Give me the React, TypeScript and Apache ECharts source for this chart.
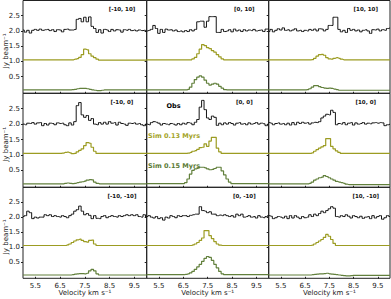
import React, { useEffect, useRef } from "react";
import * as echarts from "echarts";

const velocity = [
  5.0, 5.1, 5.2, 5.3, 5.4, 5.5, 5.6, 5.7, 5.8, 5.9,
  6.0, 6.1, 6.2, 6.3, 6.4, 6.5, 6.6, 6.7, 6.8, 6.9,
  7.0, 7.1, 7.2, 7.3, 7.4, 7.5, 7.6, 7.7, 7.8, 7.9,
  8.0, 8.1, 8.2, 8.3, 8.4, 8.5, 8.6, 8.7, 8.8, 8.9,
  9.0, 9.1, 9.2, 9.3, 9.4, 9.5, 9.6, 9.7, 9.8, 9.9, 10.0,
];

const panelLabels = ["[-10, 10]", "[0, 10]", "[10, 10]", "[-10, 0]", "[0, 0]", "[10, 0]", "[-10, -10]", "[0, -10]", "[10, -10]"];
const xTickLabels = [5.5, 6.5, 7.5, 8.5, 9.5];
const yTickLabels = [0.5, 1.0, 1.5, 2.0, 2.5];
const seriesNames = ["Obs", "Sim 0.13 Myrs", "Sim 0.15 Myrs"];

// [-10, 10]
const obsA = [
  2.03, 1.96, 2.02, 1.93, 2.02, 2.05, 2.02, 2.06, 2.02, 2.04,
  2.05, 2.01, 2.04, 1.98, 2.04, 2.03, 1.97, 2.05, 2.06, 2.03,
  2.03, 2.05, 2.38, 2.41, 2.30, 2.45, 2.30, 2.46, 2.15, 2.08,
  1.95, 2.04, 1.93, 2.05, 2.03, 1.98, 2.05, 2.00, 2.04, 2.03,
  1.96, 2.04, 2.02, 2.05, 2.01, 2.03, 2.00, 2.03, 2.01, 2.02, 1.98,
];
const sim13A = [
  1.05, 1.05, 1.05, 1.05, 1.05, 1.05, 1.05, 1.05, 1.05, 1.05,
  1.05, 1.05, 1.05, 1.05, 1.05, 1.05, 1.05, 1.05, 1.05, 1.05,
  1.05, 1.07, 1.09, 1.13, 1.22, 1.40, 1.38, 1.25, 1.17, 1.12,
  1.07, 1.04, 1.04, 1.04, 1.04, 1.04, 1.04, 1.04, 1.04, 1.04,
  1.04, 1.04, 1.04, 1.04, 1.04, 1.04, 1.04, 1.04, 1.04, 1.04, 1.04,
];
const sim15A = [
  0.06, 0.06, 0.06, 0.06, 0.06, 0.06, 0.06, 0.06, 0.06, 0.06,
  0.06, 0.06, 0.06, 0.06, 0.06, 0.06, 0.06, 0.06, 0.06, 0.065,
  0.07, 0.08, 0.10, 0.11, 0.11, 0.11, 0.10, 0.08, 0.06, 0.05,
  0.04, 0.04, 0.05, 0.06, 0.06, 0.06, 0.06, 0.06, 0.06, 0.06,
  0.06, 0.06, 0.06, 0.06, 0.06, 0.06, 0.06, 0.06, 0.06, 0.06, 0.06,
];

// [0, 10]
const obsB = [
  2.00, 2.02, 2.05, 2.18, 2.08, 1.92, 2.05, 1.95, 2.06, 2.03,
  2.04, 2.00, 2.03, 1.98, 2.00, 1.97, 2.01, 1.98, 2.04, 2.00,
  2.05, 2.30, 2.32, 2.32, 2.12, 2.32, 2.47, 2.47, 2.47, 1.95,
  1.95, 2.05, 1.98, 2.00, 2.04, 1.97, 2.06, 2.00, 2.03, 1.98,
  2.04, 2.00, 2.03, 2.01, 2.05, 2.00, 2.02, 2.03, 1.98, 2.06, 2.08,
];
const sim13B = [
  1.05, 1.05, 1.05, 1.05, 1.05, 1.05, 1.05, 1.05, 1.05, 1.05,
  1.05, 1.05, 1.05, 1.05, 1.05, 1.05, 1.05, 1.05, 1.05, 1.08,
  1.13, 1.25, 1.40, 1.55, 1.52, 1.45, 1.42, 1.35, 1.30, 1.22,
  1.15, 1.08, 1.05, 1.05, 1.05, 1.05, 1.05, 1.05, 1.05, 1.05,
  1.05, 1.05, 1.05, 1.05, 1.05, 1.05, 1.05, 1.05, 1.05, 1.05, 1.05,
];
const sim15B = [
  0.06, 0.06, 0.06, 0.06, 0.06, 0.06, 0.06, 0.06, 0.06, 0.06,
  0.06, 0.06, 0.06, 0.06, 0.06, 0.06, 0.06, 0.08, 0.15, 0.28,
  0.40, 0.48, 0.52, 0.48, 0.38, 0.28, 0.22, 0.25, 0.28, 0.25,
  0.18, 0.12, 0.07, 0.06, 0.06, 0.06, 0.06, 0.06, 0.06, 0.06,
  0.06, 0.06, 0.06, 0.06, 0.06, 0.06, 0.06, 0.06, 0.06, 0.06, 0.06,
];

// [10, 10]
const obsC = [
  1.98, 2.05, 1.97, 2.02, 2.07, 2.03, 2.10, 2.02, 2.04, 2.00,
  2.03, 2.07, 2.00, 2.02, 1.98, 2.02, 2.00, 2.05, 2.02, 2.06,
  2.00, 2.07, 2.06, 2.00, 2.05, 2.18, 2.18, 2.45, 2.45, 2.05,
  1.97, 2.02, 1.95, 2.08, 2.02, 2.05, 2.00, 2.03, 1.97, 2.02,
  2.04, 2.00, 1.92, 2.04, 2.03, 2.06, 2.00, 2.04, 2.02, 2.08, 2.10,
];
const sim13C = [
  1.05, 1.05, 1.05, 1.05, 1.05, 1.05, 1.05, 1.05, 1.05, 1.05,
  1.05, 1.05, 1.05, 1.05, 1.05, 1.05, 1.05, 1.05, 1.06, 1.10,
  1.17, 1.22, 1.23, 1.20, 1.12, 1.08, 1.07, 1.10, 1.12, 1.10,
  1.07, 1.05, 1.05, 1.05, 1.05, 1.05, 1.05, 1.05, 1.05, 1.05,
  1.05, 1.05, 1.05, 1.05, 1.05, 1.05, 1.05, 1.05, 1.05, 1.05, 1.05,
];
const sim15C = [
  0.06, 0.06, 0.06, 0.06, 0.06, 0.06, 0.06, 0.06, 0.06, 0.06,
  0.06, 0.06, 0.06, 0.06, 0.06, 0.06, 0.07, 0.10, 0.15, 0.20,
  0.20, 0.17, 0.14, 0.12, 0.11, 0.12, 0.11, 0.09, 0.07, 0.05,
  0.05, 0.05, 0.05, 0.05, 0.05, 0.05, 0.05, 0.05, 0.05, 0.05,
  0.05, 0.05, 0.05, 0.05, 0.05, 0.05, 0.05, 0.05, 0.05, 0.05, 0.05,
];

// [-10, 0]
const obsD = [
  2.00, 1.98, 2.03, 2.02, 2.05, 2.00, 2.04, 2.05, 1.95, 2.02,
  1.97, 2.03, 2.02, 1.98, 2.04, 2.02, 2.03, 1.98, 1.95, 2.04,
  1.97, 2.08, 2.60, 2.70, 2.30, 2.22, 2.28, 2.12, 2.18, 2.00,
  1.98, 2.05, 2.00, 2.06, 2.00, 2.08, 2.03, 2.05, 1.97, 2.06,
  2.02, 2.00, 1.96, 2.03, 2.02, 2.04, 2.00, 2.02, 1.98, 1.95, 2.00,
];
const sim13D = [
  1.05, 1.05, 1.05, 1.05, 1.05, 1.05, 1.05, 1.05, 1.05, 1.05,
  1.05, 1.05, 1.05, 1.05, 1.05, 1.05, 1.06, 1.08, 1.09, 1.07,
  1.04, 1.05, 1.10, 1.15, 1.20, 1.30, 1.40, 1.38, 1.25, 1.12,
  1.05, 1.05, 1.05, 1.05, 1.05, 1.05, 1.05, 1.05, 1.05, 1.05,
  1.05, 1.05, 1.05, 1.05, 1.05, 1.05, 1.05, 1.05, 1.05, 1.05, 1.05,
];
const sim15D = [
  0.06, 0.06, 0.06, 0.06, 0.06, 0.06, 0.06, 0.06, 0.06, 0.06,
  0.06, 0.06, 0.06, 0.06, 0.06, 0.06, 0.06, 0.08, 0.09, 0.08,
  0.07, 0.08, 0.10, 0.12, 0.13, 0.15, 0.18, 0.20, 0.19, 0.12,
  0.08, 0.06, 0.06, 0.06, 0.06, 0.06, 0.06, 0.06, 0.06, 0.06,
  0.06, 0.06, 0.06, 0.06, 0.06, 0.06, 0.06, 0.06, 0.06, 0.06, 0.06,
];

// [0, 0]
const obsE = [
  2.00, 1.98, 2.05, 2.08, 2.06, 2.03, 1.97, 2.02, 2.00, 1.98,
  2.02, 2.00, 1.97, 2.02, 1.98, 2.03, 2.00, 2.05, 2.03, 1.98,
  2.06, 2.15, 2.55, 2.77, 2.47, 2.20, 2.15, 2.26, 2.22, 1.96,
  2.03, 1.98, 2.04, 2.00, 2.05, 2.02, 1.97, 2.03, 2.05, 2.00,
  2.02, 1.98, 2.04, 2.00, 2.02, 2.05, 2.00, 2.03, 2.01, 1.95, 2.00,
];
const sim13E = [
  1.05, 1.05, 1.05, 1.05, 1.05, 1.05, 1.05, 1.05, 1.05, 1.05,
  1.05, 1.05, 1.05, 1.05, 1.05, 1.05, 1.05, 1.06, 1.08, 1.12,
  1.14, 1.18, 1.24, 1.25, 1.36, 1.28, 1.45, 1.57, 1.57, 1.22,
  1.10, 1.05, 1.05, 1.05, 1.05, 1.05, 1.05, 1.05, 1.05, 1.05,
  1.05, 1.05, 1.05, 1.05, 1.05, 1.05, 1.05, 1.05, 1.05, 1.05, 1.05,
];
const sim15E = [
  0.07, 0.07, 0.07, 0.07, 0.07, 0.07, 0.07, 0.07, 0.07, 0.07,
  0.07, 0.07, 0.07, 0.07, 0.07, 0.07, 0.10, 0.22, 0.38, 0.50,
  0.55, 0.57, 0.60, 0.60, 0.58, 0.55, 0.52, 0.53, 0.56, 0.60,
  0.60, 0.48, 0.35, 0.22, 0.12, 0.07, 0.07, 0.07, 0.07, 0.07,
  0.07, 0.07, 0.07, 0.07, 0.07, 0.07, 0.07, 0.07, 0.07, 0.07, 0.07,
];

// [10, 0]
const obsF = [
  2.05, 2.03, 1.98, 2.02, 2.04, 2.00, 2.02, 1.98, 2.03, 1.97,
  2.05, 1.98, 2.06, 2.02, 2.06, 2.03, 2.05, 2.00, 2.04, 2.06,
  2.05, 2.08, 2.20, 2.26, 2.32, 2.30, 2.45, 2.38, 1.98, 2.02,
  2.00, 2.05, 1.98, 2.03, 2.05, 1.97, 2.04, 2.00, 2.02, 2.05,
  2.00, 2.03, 2.01, 2.04, 2.05, 2.03, 2.05, 2.04, 1.95, 1.98, 2.00,
];
const sim13F = [
  1.05, 1.05, 1.05, 1.05, 1.05, 1.05, 1.05, 1.05, 1.05, 1.05,
  1.05, 1.05, 1.05, 1.05, 1.05, 1.05, 1.05, 1.05, 1.07, 1.12,
  1.17, 1.22, 1.26, 1.30, 1.53, 1.53, 1.28, 1.20, 1.13, 1.08,
  1.05, 1.05, 1.05, 1.05, 1.05, 1.05, 1.05, 1.05, 1.05, 1.05,
  1.05, 1.05, 1.05, 1.05, 1.05, 1.05, 1.05, 1.05, 1.05, 1.05, 1.05,
];
const sim15F = [
  0.06, 0.06, 0.06, 0.06, 0.06, 0.06, 0.06, 0.06, 0.06, 0.06,
  0.06, 0.06, 0.06, 0.06, 0.06, 0.06, 0.06, 0.08, 0.12, 0.18,
  0.22, 0.26, 0.28, 0.33, 0.30, 0.26, 0.22, 0.18, 0.14, 0.12,
  0.10, 0.08, 0.05, 0.04, 0.04, 0.04, 0.04, 0.04, 0.04, 0.04,
  0.04, 0.04, 0.04, 0.04, 0.04, 0.04, 0.04, 0.04, 0.04, 0.04, 0.04,
];

// [-10, -10]
const obsG = [
  2.02, 2.05, 2.20, 2.15, 1.95, 2.00, 1.97, 2.00, 2.00, 2.08,
  2.05, 2.08, 2.02, 2.05, 2.02, 2.00, 2.05, 2.02, 1.98, 2.05,
  2.10, 2.20, 2.25, 2.37, 2.20, 2.08, 2.12, 2.06, 1.95, 2.05,
  1.96, 1.95, 2.02, 2.05, 1.98, 2.02, 2.05, 2.02, 2.00, 2.05,
  2.02, 2.05, 2.08, 2.05, 2.08, 2.05, 2.08, 2.02, 2.00, 2.08, 2.00,
];
const sim13G = [
  1.05, 1.05, 1.05, 1.05, 1.05, 1.05, 1.05, 1.05, 1.05, 1.05,
  1.05, 1.05, 1.05, 1.05, 1.05, 1.05, 1.05, 1.05, 1.07, 1.10,
  1.15, 1.20, 1.24, 1.26, 1.22, 1.18, 1.16, 1.22, 1.23, 1.10,
  1.05, 1.05, 1.05, 1.05, 1.05, 1.05, 1.05, 1.05, 1.05, 1.05,
  1.05, 1.05, 1.05, 1.05, 1.05, 1.05, 1.05, 1.05, 1.05, 1.05, 1.05,
];
const sim15G = [
  0.06, 0.06, 0.06, 0.06, 0.06, 0.06, 0.06, 0.06, 0.06, 0.06,
  0.06, 0.06, 0.06, 0.06, 0.06, 0.06, 0.06, 0.06, 0.06, 0.06,
  0.07, 0.09, 0.10, 0.11, 0.11, 0.10, 0.12, 0.20, 0.25, 0.20,
  0.10, 0.06, 0.06, 0.06, 0.06, 0.06, 0.06, 0.06, 0.06, 0.06,
  0.06, 0.06, 0.06, 0.06, 0.06, 0.06, 0.06, 0.06, 0.06, 0.06, 0.06,
];

// [0, -10]
const obsH = [
  2.02, 2.05, 2.00, 1.97, 2.02, 1.95, 1.98, 1.90, 2.00, 1.97,
  2.05, 2.02, 1.98, 2.05, 2.02, 2.05, 2.05, 2.02, 2.06, 2.08,
  2.10, 2.10, 2.35, 2.22, 2.20, 2.15, 2.18, 2.10, 2.10, 2.05,
  2.07, 2.05, 2.08, 2.05, 2.02, 2.05, 2.00, 2.10, 2.05, 2.10,
  2.00, 2.02, 2.05, 2.00, 2.02, 1.97, 2.05, 2.00, 1.98, 2.02, 2.05,
];
const sim13H = [
  1.05, 1.05, 1.05, 1.05, 1.05, 1.05, 1.05, 1.05, 1.05, 1.05,
  1.05, 1.05, 1.05, 1.05, 1.05, 1.05, 1.05, 1.05, 1.05, 1.07,
  1.10, 1.15, 1.22, 1.30, 1.55, 1.55, 1.38, 1.28, 1.18, 1.10,
  1.06, 1.05, 1.05, 1.05, 1.05, 1.05, 1.05, 1.05, 1.05, 1.05,
  1.05, 1.05, 1.05, 1.05, 1.05, 1.05, 1.05, 1.05, 1.05, 1.05, 1.05,
];
const sim15H = [
  0.07, 0.07, 0.07, 0.07, 0.07, 0.07, 0.07, 0.07, 0.07, 0.07,
  0.07, 0.07, 0.07, 0.07, 0.07, 0.07, 0.08, 0.10, 0.13, 0.18,
  0.25, 0.33, 0.42, 0.52, 0.62, 0.68, 0.65, 0.55, 0.42, 0.30,
  0.18, 0.10, 0.07, 0.07, 0.07, 0.07, 0.07, 0.07, 0.07, 0.07,
  0.07, 0.07, 0.07, 0.07, 0.07, 0.07, 0.07, 0.07, 0.07, 0.07, 0.07,
];

// [10, -10]
const obsI = [
  2.05, 2.03, 1.95, 1.98, 2.02, 2.00, 1.97, 2.03, 1.95, 2.05,
  1.97, 2.05, 2.00, 1.95, 2.02, 1.98, 2.00, 2.08, 2.02, 2.10,
  2.05, 2.12, 2.20, 2.15, 2.22, 2.28, 2.35, 2.30, 2.02, 2.00,
  2.05, 2.02, 2.08, 2.03, 1.97, 2.05, 2.02, 1.98, 2.03, 1.96,
  2.00, 2.02, 1.95, 2.05, 1.97, 2.02, 2.05, 1.93, 1.98, 2.05, 2.02,
];
const sim13I = [
  1.05, 1.05, 1.05, 1.05, 1.05, 1.05, 1.05, 1.05, 1.05, 1.05,
  1.05, 1.05, 1.05, 1.05, 1.05, 1.05, 1.05, 1.05, 1.06, 1.10,
  1.15, 1.20, 1.25, 1.32, 1.42, 1.36, 1.25, 1.12, 1.05, 1.05,
  1.05, 1.05, 1.05, 1.05, 1.05, 1.05, 1.05, 1.05, 1.05, 1.05,
  1.05, 1.05, 1.05, 1.05, 1.05, 1.05, 1.05, 1.05, 1.05, 1.05, 1.05,
];
const sim15I = [
  0.06, 0.06, 0.06, 0.06, 0.06, 0.06, 0.06, 0.06, 0.06, 0.06,
  0.06, 0.06, 0.06, 0.06, 0.06, 0.06, 0.06, 0.06, 0.07, 0.08,
  0.09, 0.10, 0.10, 0.11, 0.12, 0.10, 0.09, 0.08, 0.07, 0.06,
  0.05, 0.04, 0.03, 0.03, 0.04, 0.05, 0.05, 0.05, 0.05, 0.05,
  0.05, 0.05, 0.05, 0.05, 0.05, 0.05, 0.05, 0.05, 0.05, 0.05, 0.05,
];

const obsSeries = [obsA, obsB, obsC, obsD, obsE, obsF, obsG, obsH, obsI];
const sim13Series = [sim13A, sim13B, sim13C, sim13D, sim13E, sim13F, sim13G, sim13H, sim13I];
const sim15Series = [sim15A, sim15B, sim15C, sim15D, sim15E, sim15F, sim15G, sim15H, sim15I];

const FONT = "DejaVu Sans";
const OBS_COLOR = "#141414";
const SIM13_COLOR = "#9c9c22";
const SIM15_COLOR = "#62803c";
const TEXT_COLOR = "#1a1a1a";

const colLeft = [23, 146.7, 268.7];
const colWidth = [123.7, 122, 121.3];
const rowTop = [0.5, 93.3, 187.3];
const rowHeight = [92.8, 94, 91];

function txt(x: number, y: number, text: string, opts: any = {}) {
  return {
    type: "text", x, y, z: 100, rotation: opts.rotation || 0,
    style: {
      text, fill: opts.fill || TEXT_COLOR, fontFamily: FONT, fontSize: opts.size || 7,
      fontWeight: opts.bold ? "bold" : "normal",
      textAlign: opts.align || "center", textVerticalAlign: "middle",
    },
  };
}

export default function App() {
  const ref = useRef<HTMLDivElement>(null);
  useEffect(() => {
    if (!ref.current) return;
    const chart = echarts.init(ref.current, null, { renderer: "svg" });
    const grid: any[] = [];
    const xAxis: any[] = [];
    const yAxis: any[] = [];
    const series: any[] = [];
    const graphic: any[] = [];
    for (let p = 0; p < 9; p++) {
      const r = Math.floor(p / 3);
      const c = p % 3;
      grid.push({
        left: colLeft[c], top: rowTop[r], width: colWidth[c], height: rowHeight[r],
        show: true, borderColor: "#222", borderWidth: 1, backgroundColor: "transparent",
      });
      xAxis.push({
        type: "value", gridIndex: p, min: 5, max: 10,
        axisLine: { show: false },
        splitLine: { show: false },
        axisTick: { show: true, length: 2, customValues: xTickLabels, lineStyle: { color: "#222" } },
        axisLabel: {
          show: r === 2, customValues: xTickLabels, fontSize: 7, fontFamily: FONT, color: TEXT_COLOR, margin: 4,
          formatter: (v: number) => v.toFixed(1),
        },
      });
      yAxis.push({
        type: "value", gridIndex: p, min: -0.05, max: 3.0,
        axisLine: { show: false },
        splitLine: { show: false },
        axisTick: { show: true, length: 2, customValues: yTickLabels, lineStyle: { color: "#222" } },
        axisLabel: {
          show: c === 0, customValues: yTickLabels, fontSize: 7, fontFamily: FONT, color: TEXT_COLOR, margin: 3,
          formatter: (v: number) => v.toFixed(1),
        },
      });
      const sets = [
        { data: obsSeries[p], color: OBS_COLOR, width: 1, name: seriesNames[0] },
        { data: sim13Series[p], color: SIM13_COLOR, width: 1.2, name: seriesNames[1] },
        { data: sim15Series[p], color: SIM15_COLOR, width: 1.2, name: seriesNames[2] },
      ];
      for (const s of sets) {
        series.push({
          type: "line", name: s.name, xAxisIndex: p, yAxisIndex: p, step: "middle",
          showSymbol: false, symbol: "none",
          data: velocity.map((v, i) => [v, s.data[i]]),
          lineStyle: { color: s.color, width: s.width },
          itemStyle: { color: s.color },
        });
      }
      graphic.push(txt(colLeft[c] + 0.8 * colWidth[c], rowTop[r] + 8.5, panelLabels[p], { size: 5.5, bold: true, fill: "#111" }));
    }
    for (let r = 0; r < 3; r++) {
      graphic.push(txt(5.5, rowTop[r] + rowHeight[r] / 2 + 4, "Jy beam⁻¹", { rotation: Math.PI / 2 }));
    }
    for (let c = 0; c < 3; c++) {
      graphic.push(txt(colLeft[c] + colWidth[c] / 2, 293, "Velocity km s⁻¹"));
    }
    graphic.push(
      txt(166.5, 105.5, seriesNames[0], { size: 6.5, bold: true, fill: "#000", align: "left" }),
      txt(148, 136, seriesNames[1], { size: 6.5, bold: true, fill: "#a3a326", align: "left" }),
      txt(148, 166, seriesNames[2], { size: 6.5, bold: true, fill: "#5a7a34", align: "left" }),
    );
    chart.setOption({ animation: false, backgroundColor: "#fff", grid, xAxis, yAxis, series, graphic });
    return () => chart.dispose();
  }, []);
  return <div ref={ref} style={{ position: "fixed", left: 0, top: 0, width: 391, height: 299 }} />;
}
